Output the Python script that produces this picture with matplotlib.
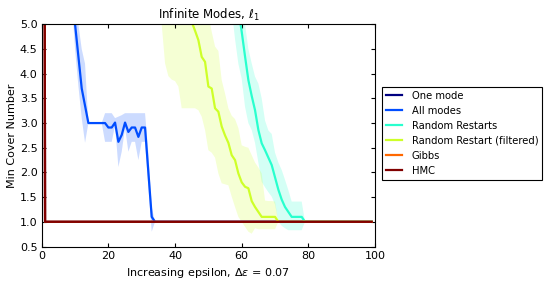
import numpy as np
import matplotlib
matplotlib.use("Agg")
import matplotlib.pyplot as plt

x = np.arange(100)

labels = ["One mode", "All modes", "Random Restarts", "Random Restart (filtered)", "Gibbs", "HMC"]

# Baselines (all hidden under HMC except the vertical at x=1)
one_mode = [50.0] + [1.0] * 99
gibbs = [50.0] + [1.0] * 99
hmc = [50.0] + [1.0] * 99

# All modes
all_mean = [8.0] * 9 + [6.0, 5.0, 4.35, 3.7, 3.35, 3.0, 3.0, 3.0, 3.0, 3.0, 3.0, 2.91, 2.91, 3.01,
                        2.62, 2.76, 3.01, 2.82, 2.91, 2.91, 2.72, 2.91, 2.91, 2.0, 1.1] + [1.0] * 66
all_lo = [7.0] * 9 + [5.5, 4.5, 3.75, 3.1, 2.6, 3.0, 3.0, 3.0, 3.0, 3.0, 2.62, 2.62, 2.62, 2.95,
                      2.11, 2.42, 2.9, 2.42, 2.62, 2.62, 2.25, 2.62, 2.62, 1.7, 0.8] + [1.0] * 66
all_hi = [9.0] * 9 + [7.0, 5.5, 5.0, 4.5, 4.2, 3.0, 3.0, 3.0, 3.0, 3.0, 3.2, 3.2, 3.2, 3.1,
                      3.13, 3.16, 3.2, 3.2, 3.2, 3.2, 3.2, 3.2, 3.2, 2.4, 1.3] + [1.0] * 66

# Random Restarts
rr_mean = [8.0] * 57 + [7.0, 6.0, 5.3, 4.85, 4.35, 3.87, 3.55, 3.26, 2.86, 2.59, 2.45, 2.3, 2.15,
                        1.9, 1.65, 1.45, 1.3, 1.2, 1.1, 1.1, 1.1, 1.1, 1.0] + [1.0] * 20
rr_lo = [7.0] * 56 + [5.8, 5.3, 4.7, 4.2, 3.9, 3.33, 3.0, 2.86, 2.6, 2.2, 1.81, 1.7, 1.6, 1.51,
                      1.35, 1.0, 0.92, 0.87, 0.83, 0.83, 0.83, 0.83, 0.83, 1.0] + [1.0] * 20
rr_hi = [9.0] * 59 + [6.0, 5.4, 5.0, 4.5, 4.21, 3.94, 3.8, 3.5, 3.05, 2.85, 2.78, 2.4, 2.2, 2.05,
                      1.85, 1.64, 1.41, 1.41, 1.41, 1.41, 1.0] + [1.0] * 20

# Random Restart (filtered)
rf_mean = [8.0] * 44 + [6.0, 5.05, 4.87, 4.68, 4.34, 4.24, 3.74, 3.7, 3.3, 3.23, 2.93, 2.75, 2.6,
                        2.35, 2.25, 1.98, 1.8, 1.71, 1.68, 1.42, 1.3, 1.2, 1.1, 1.1, 1.1, 1.1, 1.1,
                        1.0] + [1.0] * 28
rf_lo = [7.0] * 35 + [5.8, 5.0, 4.21, 3.95, 3.88, 3.85, 3.74, 3.3, 3.3, 3.3, 3.3, 3.3, 3.26, 3.13,
                      2.86, 2.45, 2.4, 2.3, 1.98, 1.78, 1.76, 1.74, 1.51, 1.3, 1.1, 1.0, 0.9, 0.8,
                      0.76, 0.87, 0.85, 0.85, 0.85, 0.85, 0.85, 0.85, 1.0] + [1.0] * 28
rf_hi = [9.0] * 49 + [5.6, 5.2, 4.85, 4.55, 4.46, 3.87, 3.6, 3.3, 3.15, 3.08, 2.9, 2.55, 2.52, 2.5,
                      2.35, 2.2, 2.1, 1.98, 1.43, 1.42, 1.42, 1.41, 1.0] + [1.0] * 28

series = [one_mode, all_mean, rr_mean, rf_mean, gibbs, hmc]
bands = {1: (all_lo, all_hi), 2: (rr_lo, rr_hi), 3: (rf_lo, rf_hi)}

colors = plt.cm.jet(np.linspace(0, 1, 6))

fig = plt.figure(figsize=(5.49, 2.87), dpi=100)
ax = fig.add_axes([0.076, 0.1411, 0.6071, 0.7742])

for i, (s, lab) in enumerate(zip(series, labels)):
    if i in bands:
        lo, hi = bands[i]
        ax.fill_between(x, lo, hi, color=colors[i], alpha=0.2, linewidth=0)
    ax.plot(x, s, color=colors[i], lw=1.6, label=lab)

ax.set_xlim(0, 100)
ax.set_ylim(0.5, 5.0)
ax.set_xticks(np.arange(0, 101, 20))
ax.set_yticks(np.arange(0.5, 5.01, 0.5))
ax.tick_params(direction="in", top=True, right=True, length=3, labelsize=8, pad=3)
for sp in ax.spines.values():
    sp.set_linewidth(0.8)

ax.set_title(r"Infinite Modes, $\ell_1$", fontsize=8.5, pad=4)
ax.set_xlabel(r"Increasing epsilon, $\Delta\epsilon$ = 0.07", fontsize=8)
ax.set_ylabel("Min Cover Number", fontsize=8, labelpad=2)

leg = ax.legend(loc="center left", bbox_to_anchor=(1.02, 0.51), borderaxespad=0, fontsize=7.2,
                fancybox=False, handlelength=1.6, handletextpad=1.0, labelspacing=0.5,
                framealpha=1)
leg.get_frame().set_edgecolor("black")
leg.get_frame().set_linewidth(0.8)

fig.savefig("out.png", dpi=100)
